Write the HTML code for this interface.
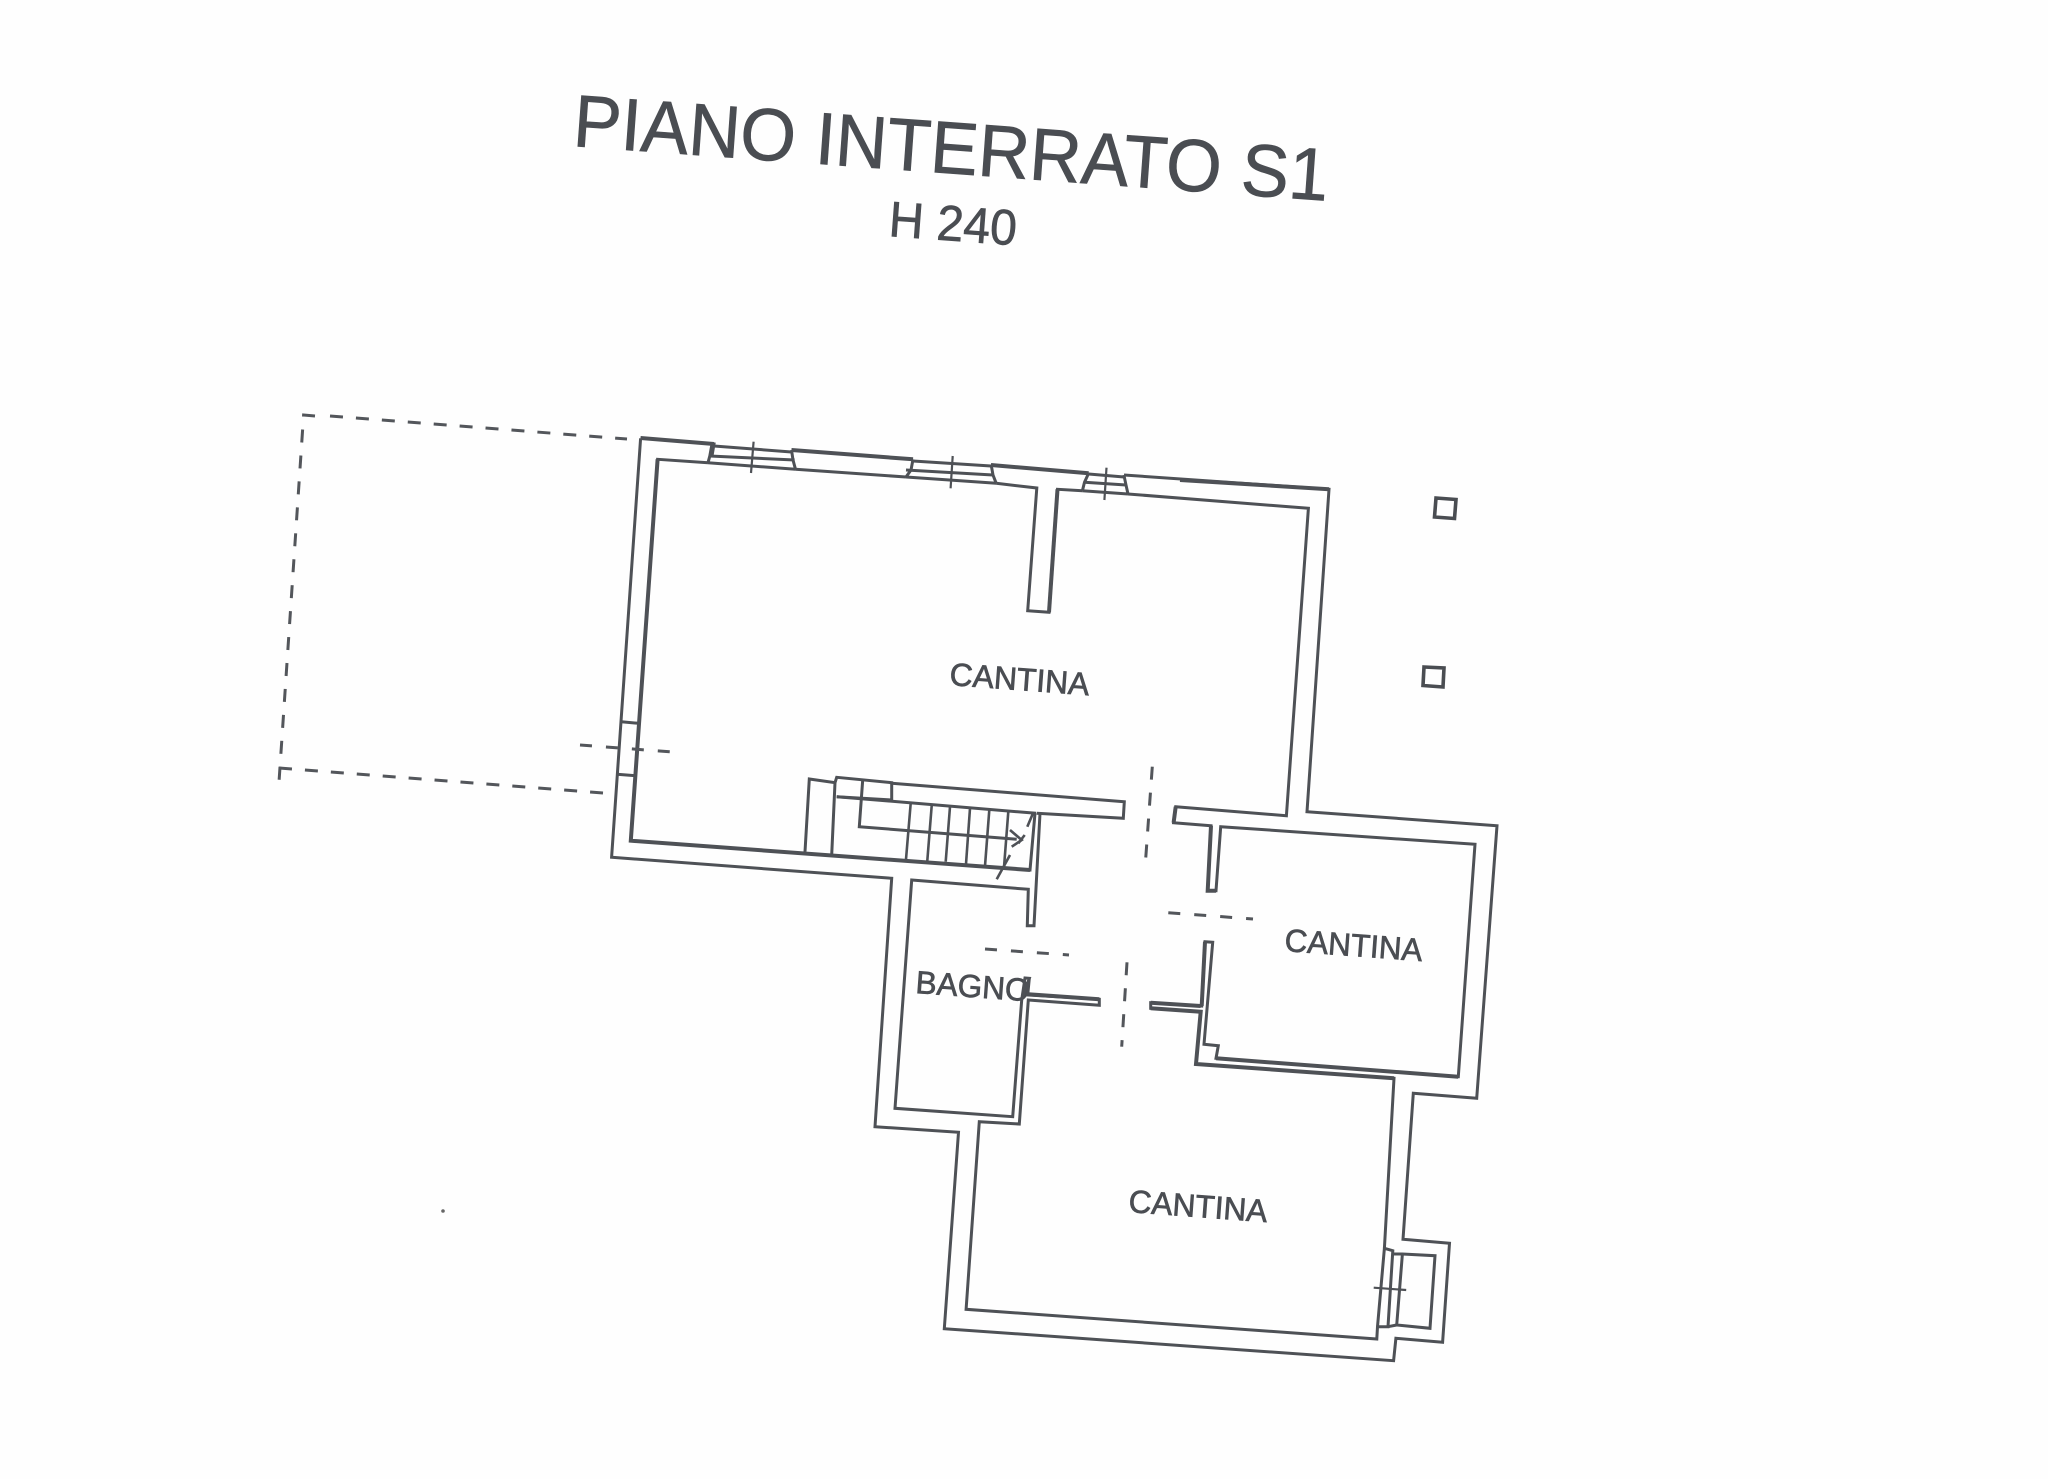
<!DOCTYPE html>
<html><head><meta charset="utf-8"><title>Piano interrato S1</title>
<style>html,body{margin:0;padding:0;background:#fefefe}svg{display:block}
text{font-family:"Liberation Sans",sans-serif;fill:#4a4d52;stroke:#4a4d52;stroke-width:.7}</style></head>
<body>
<svg width="2048" height="1479" viewBox="0 0 2048 1479" xmlns="http://www.w3.org/2000/svg">
<rect width="2048" height="1479" fill="#fefefe"/>
<text x="572" y="146" font-size="74" textLength="757" lengthAdjust="spacingAndGlyphs" stroke-width="1.2" transform="rotate(4.15 572 146)">PIANO INTERRATO S1</text>
<text x="888" y="236" font-size="50" textLength="128" lengthAdjust="spacingAndGlyphs" stroke-width="1" transform="rotate(4.2 888 236)">H 240</text>
<text x="949" y="685" font-size="32" textLength="140" lengthAdjust="spacingAndGlyphs" transform="rotate(4.2 949 685)">CANTINA</text>
<text x="1284" y="951" font-size="32" textLength="138" lengthAdjust="spacingAndGlyphs" transform="rotate(4.2 1284 951)">CANTINA</text>
<text x="1128" y="1212" font-size="32" textLength="139" lengthAdjust="spacingAndGlyphs" transform="rotate(4.2 1128 1212)">CANTINA</text>
<text x="915" y="993" font-size="32" textLength="114" lengthAdjust="spacingAndGlyphs" transform="rotate(4.2 915 993)">BAGNO</text>

<g fill="none" stroke="#4e5156" stroke-width="3" stroke-linejoin="miter">
<!-- outer wall -->
<polyline points="640.6,438 714,444 712,456"/>
<polyline points="714,446 791.5,452"/>
<polyline points="791.5,450 913,459.3"/>
<polyline points="913,461 991,466"/>
<polyline points="991,465 1088.6,473.3"/>
<polyline points="1088.6,474 1124,477"/>
<polyline points="1124,475 1329,489.3 1307,811.7 1497,825.7 1476.7,1098.3 1413.3,1093.3 1403,1239.3 1449.5,1243.3 1442.6,1342.3 1395.9,1338.3 1393.6,1360.7 944.3,1328.7 958.5,1132.3 875,1126.7 891.7,878.3 611.6,857.3 640.6,438.3"/>
<!-- inner main room -->
<polyline points="708,462.7 657.6,459.3 630.8,840.7 1030,870 1035,813.3"/>
<polyline points="795.5,469.3 906,477"/>
<polyline points="996.2,483.3 1036.8,488 1027.7,610.7 1049,612.3 1057.5,489.3 1082.4,490.7"/>
<polyline points="1128,494 1308.4,508.3 1286.4,815.7 1175.7,806.7 1173.6,822.7 1211,825.7 1207.7,890.7 1216,890.7 1220.7,826.7 1475,844.3 1458.3,1076.7 1216,1058.3 1218.3,1045.7 1204,1044.3 1212.7,942.3 1205,941.7 1201.7,1006 1150.7,1002.7 1150.7,1008.3 1200.7,1011.7 1196,1064 1394,1078.3 1384.4,1248.3"/>
<!-- windows -->
<polyline points="712,444 709.8,456 708,462.7"/>
<polyline points="791.5,450 793,460 795.5,469.3"/>
<polyline points="709.8,456 794.6,460"/>
<polyline points="708,462.7 795.5,469.3"/>
<polyline points="913,459.3 911,470 906,477"/>
<polyline points="991.2,465 993,475 996.2,483.3"/>
<polyline points="906,470 993,475"/>
<polyline points="906,477 996.2,483.3"/>
<polyline points="1088.6,473.3 1084.5,482.3 1082.4,490.7"/>
<polyline points="1123.9,475 1126,485 1128,494"/>
<polyline points="1084.5,482.3 1126,485"/>
<polyline points="1082.4,490.7 1128,494"/>
<!-- window ticks -->
<g stroke-width="2.2">
<line x1="753.6" y1="441.7" x2="751" y2="473"/>
<line x1="952.7" y1="456" x2="950.6" y2="488.3"/>
<line x1="1106.5" y1="467.7" x2="1104.4" y2="500"/>
<line x1="1373.7" y1="1287.7" x2="1406.2" y2="1290"/>
</g>
<!-- left niches -->
<line x1="621.4" y1="721.7" x2="638.4" y2="723.3"/>
<line x1="617" y1="774.3" x2="636" y2="775.7"/>
<!-- bagno -->
<polyline points="1040,813.3 1034,925.7 1027.3,925.7 1028.3,889.3 911.7,880 895,1108.3 1012.7,1116.7 1021.7,1000 1029.3,978.3 1025,978 1021.7,1000"/>
<polyline points="1029.3,978.3 1027.7,995 1099.3,999.3 1099.3,1005.3 1028.3,1000 1019.3,1124 979.3,1121.7 966.1,1309.3 1376.8,1339 1377.5,1326.7 1388,1326.7 1392.8,1250.7 1384.4,1248.3 1377.5,1326.7"/>
<!-- east window box -->
<polyline points="1392.8,1254 1402.4,1254 1435,1255.7 1430,1328.3 1396.7,1325 1402.4,1254"/>
<line x1="1388" y1="1326.7" x2="1396.7" y2="1325"/>
<!-- stair -->
<polyline points="891.7,783.3 1124.3,801.7 1123.3,818.3 1036.7,813.3"/>
<polyline points="805,851.7 809.3,779 835,782.7 831.7,855"/>
<polyline points="835,782.7 836.7,777.3 891.7,782.7 891.7,800 836.7,796.7"/>
<polyline points="836.7,796.7 1036,813.3"/>
<polyline points="862.7,780 859.3,826.7 1016.7,839.3"/>
<g stroke-width="2.6">
<line x1="910.7" y1="803.3" x2="906" y2="859.3"/>
<line x1="931.7" y1="805.7" x2="927.3" y2="860.7"/>
<line x1="950" y1="806.7" x2="945.7" y2="861.7"/>
<line x1="970" y1="808.3" x2="966" y2="864"/>
<line x1="989.3" y1="810" x2="985" y2="866"/>
<line x1="1008.3" y1="811.7" x2="1004" y2="867.3"/>
<polyline points="1010,830 1021.7,840 1011.7,846.7"/>
<line x1="1033" y1="813.3" x2="1027.3" y2="826.7"/>
<line x1="1024.7" y1="835" x2="1018.3" y2="843.3"/>
<line x1="1010" y1="855" x2="996.7" y2="879.3"/>
</g>
<!-- stronger sections -->
<g stroke-width="4">
<polyline points="640.6,438 714,444"/>
<polyline points="791.5,450 913,459.3"/>
<polyline points="991,465 1088.6,473.3"/>
<polyline points="1180,480 1329,489.3"/>
<polyline points="657.6,459.3 630.8,840.7 1030,870"/>
<polyline points="1057.5,489.3 1049,612.3"/>
<polyline points="1175.7,806.7 1173.6,822.7"/>
<polyline points="1211,825.7 1207.7,890.7 1216,890.7"/>
<polyline points="1205,941.7 1201.7,1006"/>
<polyline points="1150.7,1002.7 1200.7,1006"/>
<polyline points="1150.7,1008.3 1200.7,1011.7 1196,1064 1394,1078.3"/>
<polyline points="1216,1058.3 1458.3,1076.7"/>
<polyline points="1028.3,994.3 1099.3,999.3"/>
</g>
</g>
<!-- pillars -->
<g fill="none" stroke="#4a4d52" stroke-width="3.6">
<polygon points="1436,498 1456,499.5 1454.5,518.5 1434.5,517"/>
<polygon points="1424,667 1444,668 1443,687 1423,685.5"/>
</g>
<!-- dashed lines -->
<g fill="none" stroke="#53565b" stroke-width="3">
<polyline points="315,416 303.6,415 279,782" stroke-dasharray="13 13"/>
<line x1="330" y1="416" x2="627" y2="439" stroke-dasharray="13 13"/>
<polyline points="279,768 603,793" stroke-dasharray="13 13"/>
<line x1="580" y1="745" x2="682" y2="752.7" stroke-dasharray="12 14"/>
<line x1="1152.3" y1="766.7" x2="1145" y2="868.3" stroke-dasharray="13 13"/>
<line x1="1168.3" y1="912.7" x2="1253" y2="919" stroke-dasharray="12 14"/>
<line x1="985" y1="949" x2="1069" y2="955" stroke-dasharray="12 14"/>
<line x1="1127" y1="962.3" x2="1121.7" y2="1046.7" stroke-dasharray="13 13"/>
</g>
<circle cx="443" cy="1211" r="1.8" fill="#666"/>
</svg>
</body></html>
